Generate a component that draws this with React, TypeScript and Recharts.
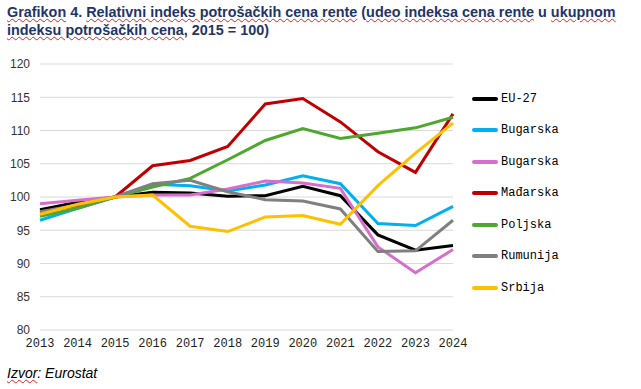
import React from 'react';
import { LineChart, Line, XAxis, YAxis, CartesianGrid } from 'recharts';

const years = ['2013', '2014', '2015', '2016', '2017', '2018', '2019', '2020', '2021', '2022', '2023', '2024'];

const eu27 = [98.1, 99.2, 100, 100.7, 100.6, 100.1, 100.2, 101.6, 100.2, 94.3, 92.0, 92.7];
const bugarska = [96.5, 98.3, 100, 101.9, 101.7, 100.9, 101.8, 103.2, 102.0, 96.0, 95.7, 98.6];
const bugarska2 = [99.0, 99.5, 100, 100.3, 100.3, 101.2, 102.4, 102.1, 101.3, 92.5, 88.6, 92.1];
const madjarska = [97.7, 98.7, 100, 104.7, 105.5, 107.6, 114.0, 114.8, 111.3, 106.8, 103.7, 112.5];
const poljska = [97.1, 98.3, 100, 101.5, 102.8, 105.6, 108.5, 110.3, 108.8, 109.6, 110.4, 112.0];
const rumunija = [97.8, 98.8, 100, 102.0, 102.5, 100.8, 99.6, 99.4, 98.2, 91.8, 91.9, 96.5];
const srbija = [97.4, 98.9, 100, 100.3, 95.6, 94.8, 97.0, 97.2, 95.9, 101.7, 106.6, 111.1];

const yTicks = [80, 85, 90, 95, 100, 105, 110, 115, 120];

const SERIES = [
  { key: 'eu27', name: 'EU-27', color: '#000000', values: eu27 },
  { key: 'bugarska', name: 'Bugarska', color: '#00b0f0', values: bugarska },
  { key: 'bugarska2', name: 'Bugarska', color: '#d56fcb', values: bugarska2 },
  { key: 'madjarska', name: 'Mađarska', color: '#c00000', values: madjarska },
  { key: 'poljska', name: 'Poljska', color: '#4ea72e', values: poljska },
  { key: 'rumunija', name: 'Rumunija', color: '#808080', values: rumunija },
  { key: 'srbija', name: 'Srbija', color: '#ffc000', values: srbija },
];

const data = years.map((year, i) => {
  const row: Record<string, string | number> = { year };
  SERIES.forEach((s) => {
    row[s.key] = s.values[i];
  });
  return row;
});

const squiggle = {
  textDecorationLine: 'underline',
  textDecorationStyle: 'wavy',
  textDecorationColor: '#e02020',
  textDecorationThickness: 1,
} as React.CSSProperties;

function LegendList() {
  return (
    <div style={{ position: 'absolute', left: 472, top: 83 }}>
      {SERIES.map((s) => (
        <div key={s.key} style={{ display: 'flex', alignItems: 'center', height: 31.5 }}>
          <span style={{ width: 26, height: 4, background: s.color, display: 'inline-block', borderRadius: 2 }} />
          <span
            style={{
              marginLeft: 3,
              fontFamily: '"Liberation Mono", "DejaVu Sans Mono", monospace',
              fontSize: 12,
              color: '#000',
            }}
          >
            {s.name}
          </span>
        </div>
      ))}
    </div>
  );
}

export default function App() {
  return (
    <div
      style={{
        position: 'absolute',
        left: 0,
        top: 0,
        width: 641,
        height: 389,
        background: '#fff',
        overflow: 'hidden',
        fontFamily: '"Liberation Sans", Arial, sans-serif',
      }}
    >
      <LineChart
        width={641}
        height={389}
        data={data}
        margin={{ top: 64, right: 188, bottom: 29, left: 0 }}
      >
        <CartesianGrid stroke="#d9d9d9" vertical={false} />
        <XAxis
          dataKey="year"
          axisLine={false}
          tickLine={false}
          height={30}
          interval={0}
          tick={{ fontSize: 12, fill: '#222', fontFamily: '"Liberation Mono", monospace' }}
        />
        <YAxis
          domain={[80, 120]}
          ticks={yTicks}
          width={40}
          axisLine={false}
          tickLine={false}
          tickMargin={4}
          tick={{ fontSize: 12, fill: '#333', fontFamily: '"Liberation Sans", Arial, sans-serif' }}
        />
        {SERIES.map((s) => (
          <Line
            key={s.key}
            type="linear"
            dataKey={s.key}
            name={s.name}
            stroke={s.color}
            strokeWidth={3}
            dot={false}
            activeDot={false}
            isAnimationActive={false}
          />
        ))}
      </LineChart>

      <LegendList />

      <div
        style={{
          position: 'absolute',
          left: 7,
          top: 3,
          width: 640,
          fontSize: 14.4,
          fontWeight: 'bold',
          lineHeight: '18px',
          color: '#1f3468',
          whiteSpace: 'nowrap',
        }}
      >
        <span style={squiggle}>Grafikon</span> 4. <span style={squiggle}>Relativni indeks potrošačkih cena rente</span> (
        <span style={squiggle}>udeo indeksa cena rente</span> u <span style={squiggle}>ukupnom</span>
        <br />
        <span style={squiggle}>indeksu potrošačkih cena</span>, 2015 = 100)
      </div>

      <div
        style={{
          position: 'absolute',
          left: 7,
          top: 365,
          fontSize: 14,
          fontStyle: 'italic',
          color: '#000',
        }}
      >
        <span style={squiggle}>Izvor</span>: Eurostat
      </div>
    </div>
  );
}
